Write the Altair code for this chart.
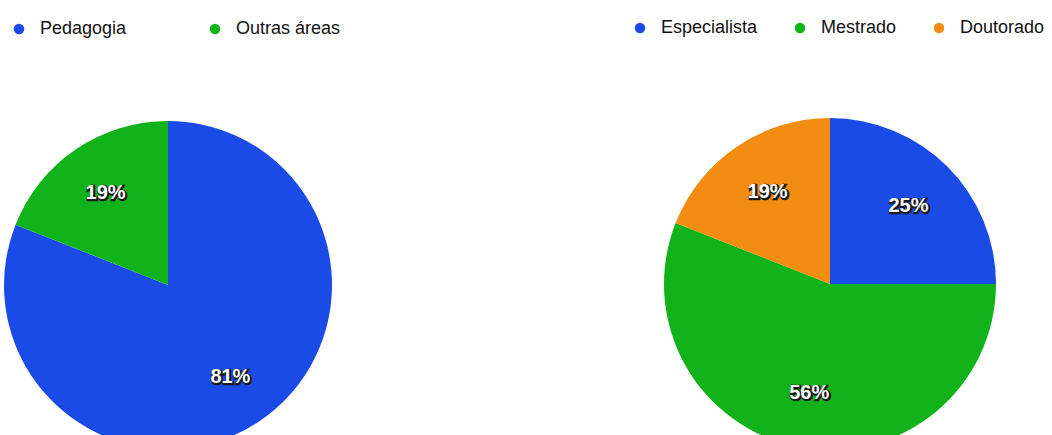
import altair as alt
import pandas as pd

# --- data ---
left_categories = ["Pedagogia", "Outras áreas"]
left_values = [81, 19]
left_colors = ["#1b4be6", "#12b31a"]

right_categories = ["Especialista", "Mestrado", "Doutorado"]
right_values = [25, 56, 19]
right_colors = ["#1b4be6", "#12b31a", "#f28c12"]

df_left = pd.DataFrame({"cat": left_categories, "value": left_values,
                        "idx": list(range(len(left_values)))})
df_right = pd.DataFrame({"cat": right_categories, "value": right_values,
                         "idx": list(range(len(right_values)))})

FONT = "Liberation Sans"
LEFT_CX, LEFT_CY, LEFT_R = 168, 285, 164
RIGHT_CX, RIGHT_CY, RIGHT_R = 830, 284, 166


def legend(x, y, pad):
    return alt.Legend(orient="none", legendX=x, legendY=y, direction="horizontal",
                      title=None, symbolType="circle", symbolSize=110,
                      symbolStrokeWidth=0, labelFont=FONT, labelFontSize=18,
                      labelColor="#111111", labelOffset=12, columnPadding=pad,
                      padding=0, labelLimit=300)


def pie(df, cats, colors, cx, cy, r, leg):
    base = alt.Chart(df)
    arc = base.mark_arc(outerRadius=r, strokeWidth=0).encode(
        theta=alt.Theta("value:Q", stack=True),
        order=alt.Order("idx:Q"),
        color=alt.Color("cat:N", scale=alt.Scale(domain=cats, range=colors),
                        sort=cats, legend=leg),
        x=alt.value(cx), y=alt.value(cy),
    )
    txt_base = base.transform_calculate(label="datum.value + '%'")
    enc = dict(theta=alt.Theta("value:Q", stack=True), order=alt.Order("idx:Q"),
               text="label:N", x=alt.value(cx), y=alt.value(cy))
    shadow = txt_base.mark_text(radius=111, font=FONT, fontSize=20, fontWeight="bold",
                                fill="#1a1a1a", stroke="#1a1a1a", strokeWidth=2.5,
                                dx=1, dy=1, align="center", baseline="middle").encode(**enc)
    text = txt_base.mark_text(radius=111, font=FONT, fontSize=20, fontWeight="bold",
                              fill="#ffffff", align="center",
                              baseline="middle").encode(**enc)
    return [arc, shadow, text]


layers = pie(df_left, left_categories, left_colors, LEFT_CX, LEFT_CY, LEFT_R,
             legend(10, 20, 79)) + \
         pie(df_right, right_categories, right_colors, RIGHT_CX, RIGHT_CY, RIGHT_R,
             legend(631, 19, 33))

chart = alt.layer(*layers).resolve_scale(color="independent", theta="independent").properties(
    width=1052, height=435, padding=0, autosize=alt.AutoSizeParams(type="none"),
    background="white"
).configure_view(stroke=None)

chart.save("out.html", embed_options={"renderer": "svg", "actions": False})
